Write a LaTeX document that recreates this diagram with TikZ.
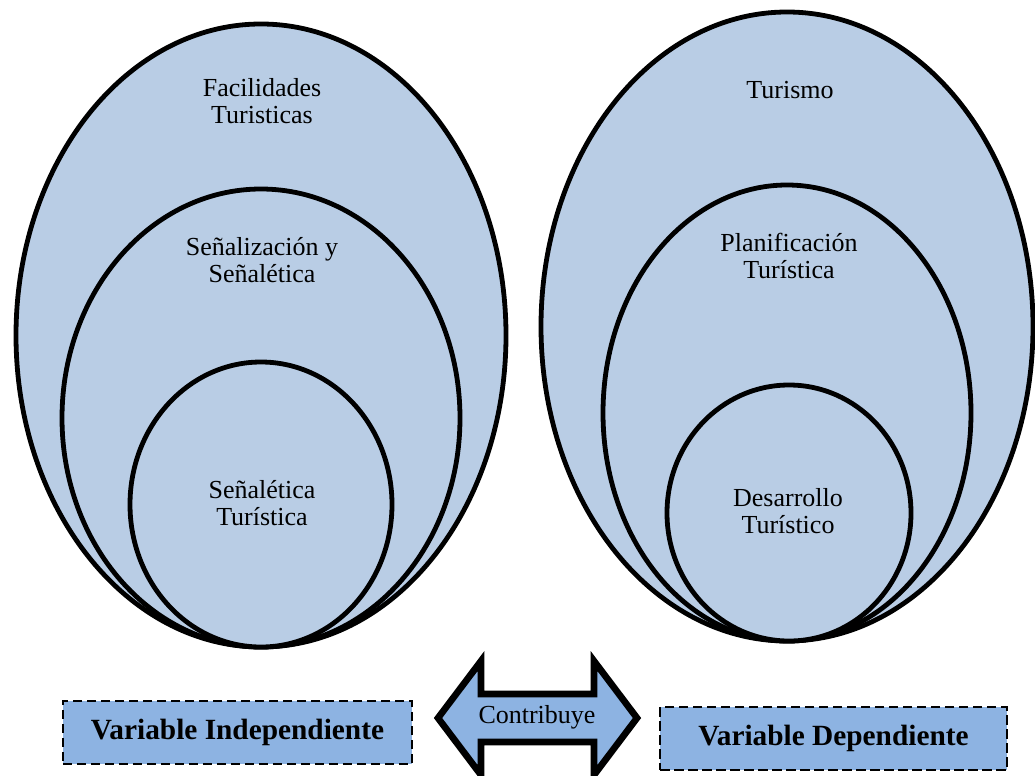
\documentclass[tikz,border=0pt]{standalone}
\usepackage{fontspec}
\setmainfont{Liberation Serif}

\tikzset{every picture/.style={line width=0.75pt}}

\begin{document}
\begin{tikzpicture}[x=0.75pt,y=0.75pt,yscale=-1,xscale=1,
	ring/.style={draw=black,line width=3.6pt,fill={rgb, 255:red, 185; green, 205; blue, 229 }},
	lbl/.style={inner sep=0.75pt,align=center,font=\fontsize{19.5}{20.5}\selectfont},
	varbox/.style={draw=black,line width=1.5pt,dash pattern=on 7pt off 3.5pt,fill={rgb, 255:red, 141; green, 179; blue, 226 },minimum width=262pt,minimum height=47pt,inner sep=0pt,font=\fontsize{22}{24}\selectfont\bfseries}]
		\useasboundingbox (0,0) rectangle (1035,775);
		
		%Shape: Ellipse [id:dp1408837215523301] 
		\draw [ring] (261,335.5) ellipse (245 and 311.5);
		%Shape: Ellipse [id:dp5530912744016209] 
		\draw [ring] (261,418) ellipse (199 and 229);
		%Shape: Ellipse [id:dp9172645033180472] 
		\draw [ring] (261,504.5) ellipse (131 and 142.5);
		%Shape: Ellipse [id:dp3364017718230516] 
		\draw [ring] (787,326.5) ellipse (246 and 314.5);
		%Shape: Ellipse [id:dp7026193348514187] 
		\draw [ring] (787,413) ellipse (184 and 228);
		%Shape: Ellipse [id:dp2219836470572248] 
		\draw [ring] (789,513) ellipse (122 and 128);
		
		%Shape: Double Arrow [id:dp6641259071284630] 
		\draw [line width=5pt,line join=miter,fill={rgb, 255:red, 141; green, 179; blue, 226 }] (438,718) -- (481,661) -- (481,694) -- (594,694) -- (594,661) -- (637,718) -- (594,775) -- (594,742) -- (481,742) -- (481,775) -- cycle ;
		
		% Text Node
		\draw (262,101) node [lbl] (facil) {Facilidades\\Turisticas};
		% Text Node
		\draw (262,260) node [lbl] (senaliz) {Señalización y\\Señalética};
		% Text Node
		\draw (262,503) node [lbl] (senalet) {Señalética\\Turística};
		% Text Node
		\draw (790,90) node [lbl] (turismo) {Turismo};
		% Text Node
		\draw (789,256) node [lbl] (planif) {Planificación\\Turística};
		% Text Node
		\draw (788,511) node [lbl] (desarr) {Desarrollo\\Turístico};
		% Text Node
		\draw (537,717) node [lbl] (contrib) {Contribuye};
		
		% Text Node
		\draw (237.5,732.5) node [varbox] (indep) {Variable Independiente};
		% Text Node
		\draw (833.5,738.5) node [varbox,minimum width=260pt] (dep) {Variable Dependiente};
		
		
	\end{tikzpicture}
\end{document}
